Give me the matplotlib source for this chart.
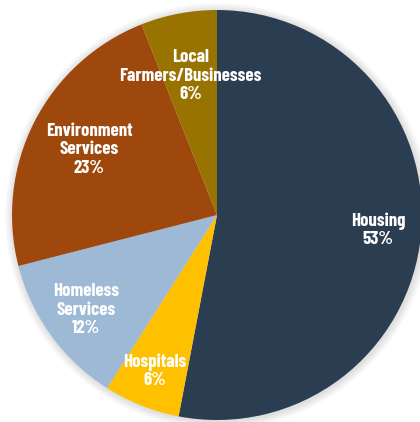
import matplotlib
matplotlib.use("Agg")
import matplotlib.pyplot as plt
import numpy as np
from matplotlib.patches import Circle

# data
labels = ["Housing", "Hospitals", "Homeless\nServices", "Environment\nServices", "Local\nFarmers/Businesses"]
shares = [53, 6, 12, 23, 6]
colors = ["#2B3D50", "#FFC000", "#9DB9D5", "#9E480E", "#997300"]

fig = plt.figure(figsize=(4.2, 4.22), dpi=100)
ax = fig.add_axes([0, 0, 1, 1])

cx, cy, R = 217, 207, 205

# soft shadow around the pie
for i in range(8):
    ax.add_patch(Circle((cx + 1, cy - 1), R + 1 + i, color="black", alpha=0.015, lw=0, zorder=0))

wedges, _ = ax.pie(shares, colors=colors, startangle=90, counterclock=False,
                   center=(cx, cy), radius=R, frame=True,
                   wedgeprops=dict(linewidth=0))
ax.set_xlim(0, 420)
ax.set_ylim(0, 422)
ax.axis("off")

dist = [0.79, 0.82, 0.79, 0.70, 0.69]
for w, lab, s, d in zip(wedges, labels, shares, dist):
    ang = np.deg2rad((w.theta1 + w.theta2) / 2)
    x = cx + d * R * np.cos(ang)
    y = cy + d * R * np.sin(ang)
    ax.text(x, y, f"{lab}\n{s}%", ha="center", va="center", color="white",
            fontsize=13.5, fontweight="bold", family=["Barlow Condensed", "DejaVu Sans"],
            linespacing=1.1)

fig.savefig("out.png", dpi=100)
